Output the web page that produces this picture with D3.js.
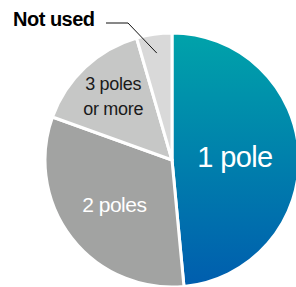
<!DOCTYPE html>
<meta charset="utf-8">

<head>
    <style>
        body { margin: 0; background: #fff; }
        .slice-label {
            font-family: Arial, "Liberation Sans", Helvetica, sans-serif;
            text-anchor: middle;
        }
        .callout {
            font-family: Arial, "Liberation Sans", Helvetica, sans-serif;
            font-weight: 700;
            font-size: 20px;
            letter-spacing: -0.5px;
        }
    </style>
</head>

<script src="https://d3js.org/d3.v7.min.js"></script>

<div id="pie"></div>

<script>

    // slices, clockwise from 12 o'clock (percent)
    const categories = ["1 pole", "2 poles", "3 poles or more", "Not used"];
    const shares = [48.5, 32, 15, 4.5];

    const width = 296, height = 287;
    const cx = 172, cy = 160, radius = 127;

    const colors = ["url(#blueGrad)", "#a2a3a2", "#c6c7c6", "#d9d9d9"];

    const svg = d3.select("#pie")
        .append("svg")
        .attr("width", width)
        .attr("height", height);

    // teal -> blue gradient for the big slice (coords relative to pie centre)
    const grad = svg.append("defs").append("linearGradient")
        .attr("id", "blueGrad")
        .attr("gradientUnits", "userSpaceOnUse")
        .attr("x1", 0).attr("y1", -radius)
        .attr("x2", 0).attr("y2", radius);
    grad.append("stop").attr("offset", 0).attr("stop-color", "#00a3aa");
    grad.append("stop").attr("offset", 1).attr("stop-color", "#005dae");

    const g = svg.append("g")
        .attr("transform", "translate(" + cx + "," + cy + ")");

    const pie = d3.pie().sort(null).value(d => d.value);
    const data = pie(categories.map((c, i) => ({ name: c, value: shares[i] })));

    const arc = d3.arc().innerRadius(0).outerRadius(radius);

    g.selectAll("path")
        .data(data)
        .enter()
        .append("path")
        .attr("d", arc)
        .attr("fill", (d, i) => colors[i])
        .attr("stroke", "#fff")
        .attr("stroke-width", 3)
        .attr("stroke-linejoin", "round");

    // label placement along each slice's mid angle
    const labelArc = r => d3.arc().innerRadius(r).outerRadius(r);

    // 1 pole
    let p = labelArc(63).centroid(data[0]);
    g.append("text").attr("class", "slice-label")
        .attr("x", p[0]).attr("y", p[1] + 10)
        .attr("fill", "#fff").style("font-size", "29px")
        .style("letter-spacing", "-0.6px")
        .text("1 pole");

    // 2 poles
    p = labelArc(73).centroid(data[1]);
    g.append("text").attr("class", "slice-label")
        .attr("x", p[0]).attr("y", p[1] + 7)
        .attr("fill", "#fff").style("font-size", "21px")
        .style("letter-spacing", "-0.5px")
        .text("2 poles");

    // 3 poles or more (two lines)
    p = labelArc(86).centroid(data[2]);
    const t3 = g.append("text").attr("class", "slice-label")
        .attr("fill", "#1a1a1a").style("font-size", "18px")
        .style("letter-spacing", "-0.3px");
    t3.append("tspan").attr("x", p[0]).attr("y", p[1] - 7).text("3 poles");
    t3.append("tspan").attr("x", p[0]).attr("y", p[1] + 18).text("or more");

    // Not used callout with leader line
    p = labelArc(108).centroid(data[3]);
    g.append("polyline")
        .attr("points", [[106 - cx, 23 - cy], [128 - cx, 23 - cy], p].map(q => q.join(",")).join(" "))
        .attr("fill", "none")
        .attr("stroke", "#111")
        .attr("stroke-width", 1);

    svg.append("text").attr("class", "callout")
        .attr("x", 13).attr("y", 26)
        .attr("fill", "#000")
        .text("Not used");

</script>
